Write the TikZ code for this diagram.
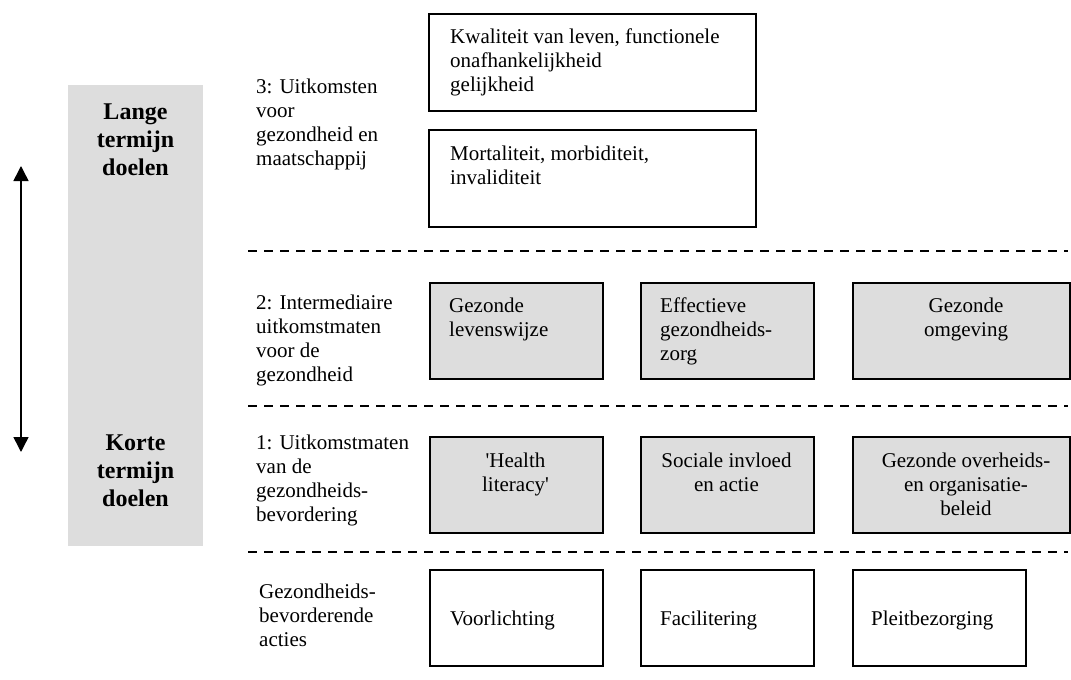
\documentclass[tikz,border=0pt]{standalone}
\usepackage{fontspec}
\setmainfont{Liberation Serif}
\usetikzlibrary{arrows.meta}
\definecolor{boxgrey}{HTML}{DDDDDD}
\begin{document}
\begin{tikzpicture}[x=1pt,y=-1pt,
  wbox/.style={draw=black,line width=1.6pt,anchor=north west,inner sep=0pt,minimum height=96pt},
  gbox/.style={wbox,fill=boxgrey},
  txt/.style={inner sep=0pt,font=\fontsize{21}{24}\selectfont},
  lt/.style={txt,anchor=north west,align=left},
  ct/.style={txt,anchor=north,align=center},
  big/.style={inner sep=0pt,anchor=north,align=center,font=\fontsize{24}{28}\selectfont\bfseries},
  sep/.style={line width=1.5pt,dash pattern=on 9pt off 7pt},
  dblarrow/.style={line width=1.5pt,>={Triangle[length=15pt,width=15pt]},<->}]
\useasboundingbox (0,0) rectangle (1071,680);
% left column
\node[fill=boxgrey,anchor=north west,inner sep=0pt,minimum width=135pt,minimum height=461pt] (col) at (68,85) {};
\node[big] (lange) at (135.5,99.4) {\strut Lange\\termijn\\doelen};
\node[big] (korte) at (135.5,430.4) {\strut Korte\\termijn\\doelen};
\coordinate (atop) at (21,166);
\coordinate (abot) at (21,452);
\draw[dblarrow] (atop) -- (abot);
% separators
\draw[sep] (248,251) -- (1068,251);
\draw[sep] (248,406) -- (1068,406);
\draw[sep] (248,552) -- (1068,552);
% level labels
\node[lt] (l3) at (256,76.2) {\strut 3: Uitkomsten\\voor\\gezondheid en\\maatschappij};
\node[lt] (l2) at (256,292.2) {\strut 2: Intermediaire\\uitkomstmaten\\voor de\\gezondheid};
\node[lt] (l1) at (256,432.2) {\strut 1: Uitkomstmaten\\van de\\gezondheids-\\bevordering};
\node[lt] (l0) at (259,581.2) {\strut Gezondheids-\\bevorderende\\acties};
% level 3
\node[wbox,minimum width=327pt,minimum height=97pt] (kw) at (428,13) {};
\node[lt] (kwt) at (450,26.2) {\strut Kwaliteit van leven, functionele\\onafhankelijkheid\\gelijkheid};
\node[wbox,minimum width=327pt,minimum height=97pt] (mo) at (428,129) {};
\node[lt] (mot) at (450,143.2) {\strut Mortaliteit, morbiditeit,\\invaliditeit};
% level 2
\node[gbox,minimum width=173pt] (g2a) at (429,282) {};
\node[lt] (g2at) at (449,295.2) {\strut Gezonde\\levenswijze};
\node[gbox,minimum width=173pt] (g2b) at (640,282) {};
\node[lt] (g2bt) at (660,295.2) {\strut Effectieve\\gezondheids-\\zorg};
\node[gbox,minimum width=217pt] (g2c) at (852,282) {};
\node[ct] (g2ct) at (966,295.2) {\strut Gezonde\\omgeving};
% level 1
\node[gbox,minimum width=173pt] (g1a) at (429,436) {};
\node[ct] (g1at) at (515.5,450.2) {\strut \textquotesingle Health\\literacy\textquotesingle};
\node[gbox,minimum width=173pt] (g1b) at (640,436) {};
\node[ct] (g1bt) at (726.5,450.2) {\strut Sociale invloed\\en actie};
\node[gbox,minimum width=217pt] (g1c) at (852,436) {};
\node[ct] (g1ct) at (966,450.2) {\strut Gezonde overheids-\\en organisatie-\\beleid};
% actions
\node[wbox,minimum width=173pt] (a1) at (429,569) {};
\node[lt] (a1t) at (450,608.2) {\strut Voorlichting};
\node[wbox,minimum width=173pt] (a2) at (640,569) {};
\node[lt] (a2t) at (660,608.2) {\strut Facilitering};
\node[wbox,minimum width=173pt] (a3) at (852,569) {};
\node[lt] (a3t) at (871,608.2) {\strut Pleitbezorging};
\end{tikzpicture}
\end{document}
